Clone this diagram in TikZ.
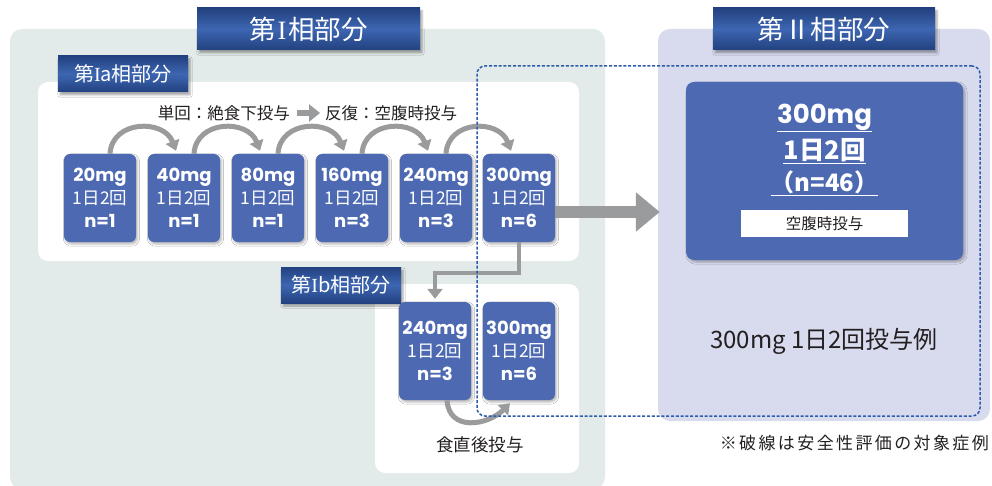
\documentclass[tikz,border=0pt]{standalone}
\usepackage{fontspec}
\setmainfont{Noto Sans CJK JP}
\newfontfamily\pop{Poppins}
\newfontfamily\serifI{Liberation Serif}
\usetikzlibrary{arrows.meta,shadows.blur,calc}
\definecolor{bgone}{HTML}{E2EBE9}
\definecolor{bgtwo}{HTML}{D8DBEE}
\definecolor{boxblue}{HTML}{4C69B2}
\definecolor{ttop}{HTML}{22417F}
\definecolor{tmid}{HTML}{3D66B2}
\definecolor{arrowgray}{HTML}{9A9B9D}
\definecolor{dashblue}{HTML}{2E5BAA}
\definecolor{txt}{HTML}{231F20}
\newcommand{\dosetxt}[2]{{\pop\bfseries\fontsize{18}{23}\selectfont #1}\\{\fontsize{17.5}{23}\selectfont 1日2回}\\{\pop\bfseries\fontsize{18}{23}\selectfont #2}}
\tikzset{
  phasebg/.style={rounded corners=12pt, inner sep=0pt},
  whitebox/.style={rounded corners=10pt, fill=white, inner sep=0pt},
  titlebox/.style={top color=ttop, bottom color=ttop, middle color=tmid, text=white, inner sep=0pt,
    blur shadow={shadow xshift=2pt, shadow yshift=-3pt, shadow blur steps=5, shadow opacity=35}},
  dosebox/.style={rounded corners=6pt, fill=boxblue, text=white, minimum width=72pt, align=center, inner sep=0pt,
    font=\fontsize{16}{23}\selectfont,
    blur shadow={shadow xshift=1.5pt, shadow yshift=-2pt, shadow blur steps=4, shadow opacity=30}},
  curvearrow/.style={draw=arrowgray, line width=5pt, -{Triangle[width=14pt,length=10pt]}},
  darktext/.style={text=txt, inner sep=0pt},
}
\begin{document}
\begin{tikzpicture}[x=1pt,y=-1pt]
\useasboundingbox (0,0) rectangle (992,486);
% backgrounds
\node[phasebg, fill=bgone, minimum width=595pt, minimum height=460pt] (p1bg) at (307.5,259) {};
\node[phasebg, fill=bgtwo, minimum width=332pt, minimum height=392pt] (p2bg) at (824,225) {};
\node[whitebox, minimum width=541pt, minimum height=179pt] (iabox) at (308.5,171.5) {};
\node[whitebox, minimum width=204pt, minimum height=189pt] (ibbox) at (477,378.5) {};
% titles
\node[titlebox, minimum width=223pt, minimum height=42pt, font=\fontsize{26.5}{26}\selectfont] (t1) at (308.5,29) {第\hspace{2pt}{\serifI I}\hspace{2pt}相部分};
\node[titlebox, minimum width=222pt, minimum height=42pt, font=\fontsize{26.5}{26}\selectfont] (t2) at (824,29) {第Ⅱ相部分};
\node[titlebox, minimum width=130pt, minimum height=36pt, font=\fontsize{20}{20}\selectfont] (lia) at (123,74) {第{\serifI I}a相部分};
\node[titlebox, minimum width=120pt, minimum height=36pt, font=\fontsize{20}{20}\selectfont] (lib) at (341,285) {第{\serifI I}b相部分};
% text line
\node[darktext, font=\fontsize{16.5}{16.5}\selectfont, anchor=east] (single) at (290,113) {単回：絶食下投与};
\node[darktext, font=\fontsize{16.5}{16.5}\selectfont, anchor=west] (repeat) at (325,113) {反復：空腹時投与};
\draw[draw=arrowgray, line width=6pt, -{Triangle[width=17pt,length=11pt]}] ([xshift=7pt]single.east) -- ([xshift=-5pt]repeat.west);
% dose boxes Ia
\node[dosebox, minimum height=88pt] (d1) at (100,198) {\dosetxt{20mg}{n=1}};
\node[dosebox, minimum height=88pt] (d2) at (184,198) {\dosetxt{40mg}{n=1}};
\node[dosebox, minimum height=88pt] (d3) at (268,198) {\dosetxt{80mg}{n=1}};
\node[dosebox, minimum height=88pt] (d4) at (352,198) {\dosetxt{160mg}{n=3}};
\node[dosebox, minimum height=88pt] (d5) at (436,198) {\dosetxt{240mg}{n=3}};
\node[dosebox, minimum height=88pt] (d6) at (519,198) {\dosetxt{300mg}{n=6}};
% Ib boxes
\node[dosebox, minimum height=98pt] (e1) at (435,351) {\dosetxt{240mg}{n=3}};
\node[dosebox, minimum height=98pt] (e2) at (519,351) {\dosetxt{300mg}{n=6}};
% curved arrows Ia
\foreach \a/\b in {d1/d2,d2/d3,d3/d4,d4/d5,d5/d6}{
  \draw[curvearrow] ([xshift=10pt]\a.north) .. controls +(2,-34) and +(-12,-32) .. ([xshift=-8pt,yshift=3pt]\b.north);
}
% connector to Ib
\draw[draw=arrowgray, line width=4.5pt, -{Triangle[width=15pt,length=10pt]}] (d6.south) -- ++(0,31) -| ([yshift=3pt]e1.north);
% Ib curve
\draw[curvearrow] ([xshift=12pt]e1.south) .. controls +(2,32) and +(-22,22) .. ([xshift=-9pt,yshift=-3pt]e2.south);
\node[darktext, font=\fontsize{17.5}{17.5}\selectfont] (fed) at (480,445) {食直後投与};
% big arrow
\coordinate (bs) at ([yshift=-14pt]d6.east);
\draw[draw=arrowgray, line width=12pt, -{Triangle[width=38pt,length=24pt]}] (bs) -- ([xshift=2pt]bs -| p2bg.west);
% phase II box
\node[rounded corners=8pt, fill=boxblue, minimum width=277pt, minimum height=178pt, inner sep=0pt,
  blur shadow={shadow xshift=2pt, shadow yshift=-2pt, shadow blur steps=5, shadow opacity=30}] (p2box) at (824.5,171) {};
\node[text=white, inner sep=0pt, font=\pop\bfseries\fontsize{26}{26}\selectfont] (l1) at (824.5,118) {\underline{300mg}};
\node[text=white, inner sep=0pt, font=\bfseries\fontsize{25.5}{25}\selectfont] (l2) at (824.5,151) {\underline{1日2回}};
\node[text=white, inner sep=0pt, font=\bfseries\fontsize{24}{24}\selectfont] (l3) at (824.5,183) {\underline{（n=46）}};
\node[fill=white, minimum width=167pt, minimum height=27pt, inner sep=0pt, text=txt, font=\fontsize{15.5}{15.5}\selectfont] (fast) at (824.5,223.5) {空腹時投与};
\node[darktext, font=\fontsize{24}{24}\selectfont] (example) at (824,341) {300mg 1日2回投与例};
% safety dashed frame
\node[draw=dashblue, line width=1.5pt, dash pattern=on 3pt off 1.8pt, rounded corners=8pt, minimum width=503pt, minimum height=350pt, inner sep=0pt] (safety) at (728.5,241) {};
% footnote
\node[darktext, font=\fontsize{17}{17}\selectfont\addfontfeature{LetterSpace=14}, anchor=east] (note) at (989,443) {※破線は安全性評価の対象症例};
\end{tikzpicture}
\end{document}
